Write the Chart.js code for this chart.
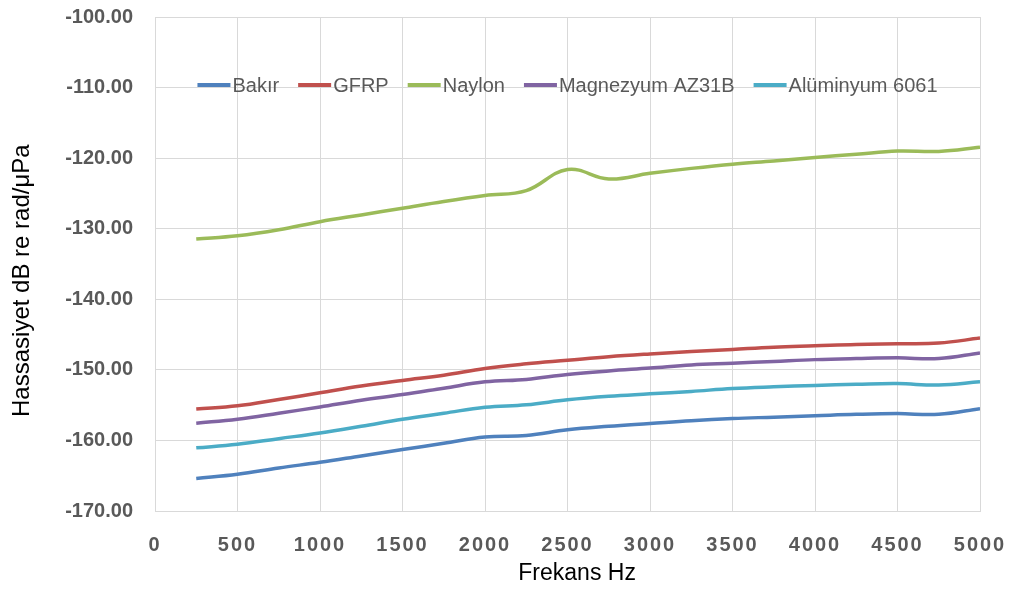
<!DOCTYPE html>
<html>
<head>
<meta charset="utf-8">
<script src="https://cdn.jsdelivr.net/npm/chart.js@4/dist/chart.umd.min.js"></script>
<style>
  html, body { margin: 0; padding: 0; background: #ffffff; }
  #wrap { width: 1011px; height: 590px; position: relative; }
</style>
</head>
<body>
<div id="wrap"><canvas id="c"></canvas></div>
<script>
const freqs = [250, 500, 750, 1000, 1250, 1500, 1750, 2000, 2250, 2500, 2750, 3000, 3250, 3500, 3750, 4000, 4250, 4500, 4750, 5000];
const bakir = [-165.4, -164.8, -163.9, -163.1, -162.2, -161.3, -160.4, -159.5, -159.3, -158.5, -158.0, -157.6, -157.2, -156.9, -156.7, -156.5, -156.3, -156.2, -156.3, -155.5];
const gfrp = [-155.55, -155.1, -154.2, -153.25, -152.3, -151.5, -150.75, -149.8, -149.15, -148.65, -148.15, -147.75, -147.4, -147.1, -146.8, -146.6, -146.4, -146.3, -146.2, -145.5];
const naylon = [-131.45, -131.0, -130.15, -129.0, -128.05, -127.1, -126.15, -125.3, -124.6, -121.6, -122.95, -122.15, -121.45, -120.85, -120.4, -119.9, -119.45, -119.0, -119.05, -118.45];
const magnezyum = [-157.55, -157.0, -156.15, -155.25, -154.3, -153.5, -152.6, -151.7, -151.35, -150.65, -150.15, -149.75, -149.3, -149.05, -148.8, -148.55, -148.4, -148.3, -148.4, -147.6];
const aluminyum = [-161.05, -160.55, -159.75, -158.95, -158.0, -157.0, -156.15, -155.3, -154.95, -154.25, -153.75, -153.4, -153.05, -152.65, -152.4, -152.2, -152.05, -151.95, -152.15, -151.7];

const seriesNames = ['Bakır', 'GFRP', 'Naylon', 'Magnezyum AZ31B', 'Alüminyum 6061'];
const seriesValues = [bakir, gfrp, naylon, magnezyum, aluminyum];
const seriesColors = ['#4F81BD', '#C0504D', '#9BBB59', '#8064A2', '#4BACC6'];

const xTitle = 'Frekans Hz';
const yTitle = 'Hassasiyet dB re rad/μPa';

const datasets = seriesNames.map((name, i) => ({
  label: name,
  data: freqs.map((f, j) => ({ x: f, y: seriesValues[i][j] })),
  borderColor: seriesColors[i],
  backgroundColor: seriesColors[i],
  borderWidth: 3.5,
  pointRadius: 0,
  pointHoverRadius: 0,
  tension: 0.4,
  fill: false
}));

const gridColor = '#d9d9d9';
const tickColor = '#595959';
const fam = "'Liberation Sans', Arial, sans-serif";

// letter-spaced x tick labels (as in the reference)
const letterSpacingX = {
  id: 'letterSpacingX',
  afterLayout(chart) {
    const s = chart.scales.x;
    if (s && !s._lsPatched) {
      const orig = s.drawLabels;
      s.drawLabels = function (ca) {
        this.ctx.save();
        this.ctx.letterSpacing = '2px';
        orig.call(this, ca);
        this.ctx.restore();
      };
      s._lsPatched = true;
    }
  }
};

// horizontal legend drawn inside the plot area, from the dataset labels/colours
const insideLegend = {
  id: 'insideLegend',
  afterDraw(chart) {
    const ctx = chart.ctx;
    const area = chart.chartArea;
    const lineW = 33, lineH = 4, gapAfterLine = 2, gapItems = 19;
    const cy = 85;
    ctx.save();
    ctx.font = "20px 'Liberation Sans', Arial, sans-serif";
    ctx.textBaseline = 'middle';
    ctx.textAlign = 'left';
    const items = chart.data.datasets.map(d => ({ text: d.label, color: d.borderColor, w: ctx.measureText(d.label).width }));
    let total = 0;
    items.forEach((it, i) => { total += lineW + gapAfterLine + it.w + (i < items.length - 1 ? gapItems : 0); });
    let x = (area.left + area.right) / 2 - total / 2;
    items.forEach(it => {
      ctx.fillStyle = it.color;
      ctx.fillRect(x, cy - lineH / 2, lineW, lineH);
      x += lineW + gapAfterLine;
      ctx.fillStyle = tickColor;
      ctx.fillText(it.text, x, cy + 1);
      x += it.w + gapItems;
    });
    ctx.restore();
  }
};

new Chart(document.getElementById('c'), {
  type: 'line',
  data: { datasets },
  plugins: [letterSpacingX, insideLegend],
  options: {
    responsive: true,
    maintainAspectRatio: false,
    animation: false,
    events: [],
    layout: { padding: { left: 0, right: 31, top: 17, bottom: 0 } },
    plugins: {
      tooltip: { enabled: false },
      legend: { display: false }
    },
    scales: {
      x: {
        type: 'linear',
        min: 0,
        max: 5000,
        afterFit(s) { s.height = 79; s.paddingLeft = 0; s.paddingRight = 0; },
        ticks: {
          stepSize: 500,
          color: tickColor,
          padding: 22,
          maxRotation: 0,
          autoSkip: false,
          font: { family: fam, size: 20, weight: 'bold' },
          callback: (v) => String(v)
        },
        grid: { color: gridColor, lineWidth: 1, drawTicks: false },
        border: { color: gridColor, width: 1 },
        title: {
          display: true,
          text: '   ' + xTitle,
          color: '#000000',
          font: { family: fam, size: 23 },
          padding: { top: 0, bottom: 3 }
        }
      },
      y: {
        type: 'linear',
        min: -170,
        max: -100,
        afterFit(s) { s.width = 155; s.paddingTop = 0; s.paddingBottom = 0; },
        ticks: {
          stepSize: 10,
          color: tickColor,
          padding: 22,
          font: { family: fam, size: 20, weight: 'bold' },
          callback: (v) => Number(v).toFixed(2)
        },
        grid: { color: gridColor, lineWidth: 1, drawTicks: false },
        border: { color: gridColor, width: 1 },
        title: {
          display: true,
          text: yTitle + '     ',
          color: '#000000',
          font: { family: fam, size: 24 },
          padding: { top: 8, bottom: 0 }
        }
      }
    }
  }
});
</script>
</body>
</html>
